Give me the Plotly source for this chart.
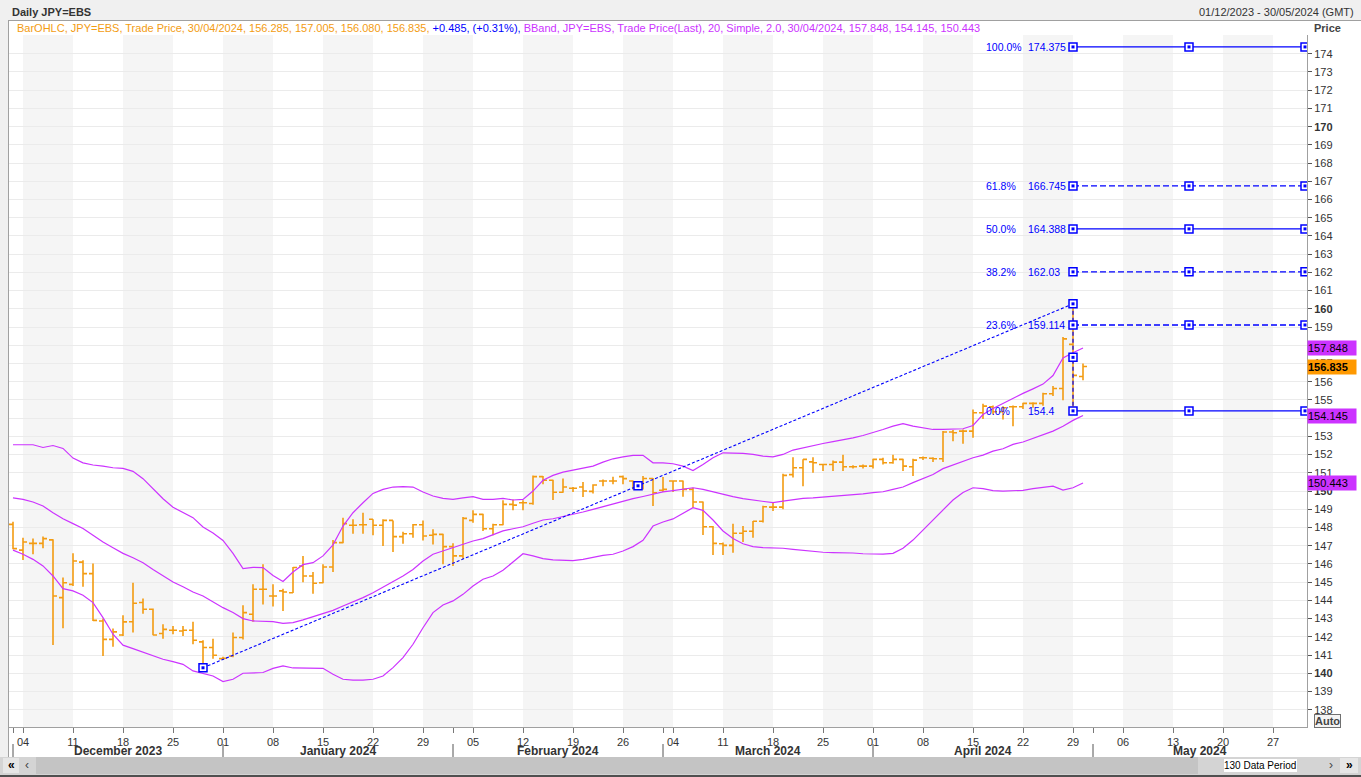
import pandas as pd
import plotly.graph_objects as go

# ---------------- data ----------------
dates = pd.bdate_range("2023-12-01", "2024-05-30")  # 130 weekday slots on the axis

bar_open = [148.17, 146.76, 147.13, 147.13, 147.32, 144.15, 144.88, 146.10, 145.47, 142.87,
            141.86, 142.10, 142.83, 143.88, 143.51, 142.18, 142.36, 142.32, 142.36, 141.72,
            141.41, 140.80, 140.95, 141.96, 143.24, 144.61, 144.24, 144.52, 144.42, 145.89,
            145.34, 144.97, 145.83, 147.17, 148.12, 148.15, 148.45, 148.12, 148.39, 147.50,
            147.66, 148.15, 147.57, 147.62, 146.95, 146.44, 148.39, 148.72, 147.93, 148.15,
            149.27, 149.36, 149.32, 150.79, 150.59, 149.93, 150.15, 150.22, 149.98, 150.55,
            150.55, 150.79, 150.55, 150.51, 150.69, 150.04, 150.55, 150.55, 150.09, 149.40,
            148.04, 147.11, 147.02, 147.68, 147.79, 148.34, 149.12, 149.12, 150.90, 151.28,
            151.60, 151.46, 151.46, 151.59, 151.33, 151.37, 151.37, 151.74, 151.55, 151.74,
            151.33, 151.83, 151.80, 151.77, 153.24, 153.29, 153.29, 154.30, 154.62, 154.35,
            154.63, 154.63, 154.81, 154.81, 155.34, 155.63, 158.05, 156.285]
bar_high = [148.32, 147.44, 147.39, 147.50, 147.35, 145.25, 146.58, 146.20, 146.03, 143.00,
            142.45, 143.18, 144.97, 144.10, 143.55, 142.69, 142.60, 142.60, 142.83, 141.81,
            141.90, 140.90, 142.23, 143.73, 144.88, 145.98, 144.88, 144.64, 145.83, 146.44,
            145.56, 145.98, 147.31, 148.54, 148.45, 148.81, 148.45, 148.45, 148.39, 147.77,
            148.19, 148.39, 147.90, 147.65, 147.13, 148.57, 148.94, 148.75, 148.21, 149.49,
            149.54, 149.49, 150.86, 150.82, 150.62, 150.69, 150.22, 150.49, 150.37, 150.64,
            150.79, 150.86, 150.58, 150.82, 150.72, 150.77, 150.58, 150.58, 150.18, 149.42,
            148.08, 147.17, 148.20, 148.08, 148.35, 149.20, 149.36, 150.95, 151.86, 151.74,
            151.86, 151.50, 151.68, 151.99, 151.42, 151.46, 151.77, 151.83, 151.99, 151.77,
            151.77, 151.90, 151.86, 153.30, 153.35, 153.38, 154.48, 154.79, 154.70, 154.66,
            154.70, 154.85, 154.88, 155.39, 155.76, 158.45, 160.20, 157.005]
bar_low = [146.80, 146.22, 146.53, 146.86, 141.55, 142.47, 144.79, 144.75, 142.87, 140.95,
           141.46, 142.05, 142.23, 143.27, 142.08, 141.90, 142.14, 142.05, 141.59, 140.37,
           140.80, 140.75, 140.88, 141.85, 142.82, 143.78, 143.66, 143.42, 144.40, 145.00,
           144.37, 144.94, 145.56, 147.13, 147.66, 147.66, 147.57, 146.98, 146.65, 147.11,
           147.44, 147.29, 147.07, 145.98, 145.89, 146.29, 148.26, 147.81, 147.57, 148.12,
           148.94, 148.94, 149.25, 150.37, 149.51, 149.90, 149.95, 149.67, 149.87, 150.27,
           150.37, 150.37, 150.09, 150.09, 149.18, 149.95, 149.95, 149.69, 149.09, 147.59,
           146.49, 146.49, 146.62, 147.20, 147.44, 148.28, 148.90, 149.00, 150.75, 150.27,
           151.00, 151.10, 151.10, 151.10, 151.24, 151.24, 151.24, 151.46, 151.50, 151.10,
           150.82, 151.70, 151.60, 151.60, 152.74, 152.60, 152.93, 153.95, 154.20, 153.93,
           153.56, 154.50, 154.57, 154.68, 155.21, 154.99, 154.50, 156.080]
bar_close = [146.84, 147.20, 147.13, 147.39, 144.24, 144.97, 146.16, 145.47, 142.90, 141.86,
             142.27, 142.82, 143.84, 143.51, 142.10, 142.41, 142.36, 142.36, 141.81, 141.41,
             140.99, 140.82, 141.96, 143.33, 144.61, 144.61, 144.24, 144.46, 145.80, 145.34,
             144.94, 145.83, 147.17, 148.21, 148.12, 148.15, 148.12, 148.39, 147.50, 147.66,
             148.15, 147.53, 147.62, 146.95, 146.44, 148.50, 148.72, 147.93, 148.15, 149.27,
             149.23, 149.36, 150.79, 150.59, 149.93, 150.22, 150.15, 150.00, 150.33, 150.55,
             150.55, 150.68, 150.49, 150.69, 149.91, 150.09, 150.55, 150.09, 149.40, 148.04,
             147.13, 147.02, 147.68, 147.79, 148.34, 149.14, 149.12, 150.86, 151.28, 151.74,
             151.55, 151.46, 151.59, 151.33, 151.33, 151.37, 151.74, 151.55, 151.74, 151.37,
             151.70, 151.83, 151.77, 153.24, 153.20, 153.29, 154.30, 154.66, 154.35, 154.57,
             154.63, 154.81, 154.81, 155.34, 155.63, 158.35, 156.35, 156.835]

bb_upper = [152.54, 152.54, 152.54, 152.39, 152.50, 152.34, 151.81, 151.55, 151.43, 151.37,
            151.28, 151.24, 151.08, 150.68, 150.13, 149.58, 149.11, 148.81, 148.54, 148.03,
            147.70, 147.29, 146.58, 145.74, 145.81, 145.80, 145.37, 145.04, 145.56, 145.96,
            146.07, 146.44, 147.05, 148.08, 148.81, 149.36, 149.87, 150.09, 150.22, 150.24,
            150.22, 149.95, 149.73, 149.60, 149.54, 149.63, 149.69, 149.54, 149.54, 149.60,
            149.51, 149.54, 150.00, 150.59, 150.86, 151.04, 151.15, 151.22, 151.37, 151.59,
            151.77, 151.88, 151.96, 151.96, 151.55, 151.55, 151.50, 151.37, 151.13, 151.46,
            151.83, 152.10, 152.10, 152.07, 152.01, 151.92, 151.88, 152.01, 152.25, 152.38,
            152.52, 152.61, 152.71, 152.80, 152.92, 153.05, 153.20, 153.38, 153.56, 153.70,
            153.56, 153.47, 153.38, 153.38, 153.38, 153.42, 153.60, 154.20, 154.53, 154.81,
            155.12, 155.36, 155.61, 155.87, 156.34, 157.31, 157.59, 157.848]
bb_mid = [149.63, 149.54, 149.40, 149.18, 148.81, 148.48, 148.21, 147.95, 147.57, 147.20,
          146.89, 146.58, 146.34, 146.07, 145.70, 145.34, 145.01, 144.75, 144.46, 144.24,
          143.91, 143.60, 143.33, 143.00, 142.87, 142.87, 142.83, 142.74, 142.78, 142.93,
          143.11, 143.27, 143.45, 143.69, 143.91, 144.15, 144.42, 144.73, 145.01, 145.34,
          145.70, 146.16, 146.53, 146.71, 146.89, 147.07, 147.26, 147.39, 147.62, 147.81,
          147.93, 148.04, 148.23, 148.41, 148.48, 148.59, 148.72, 148.85, 148.99, 149.14,
          149.27, 149.45, 149.58, 149.70, 149.84, 149.95, 150.02, 150.09, 150.18, 150.09,
          149.95, 149.82, 149.69, 149.58, 149.51, 149.40, 149.36, 149.45, 149.54, 149.60,
          149.63, 149.67, 149.69, 149.73, 149.78, 149.85, 149.91, 149.96, 150.09, 150.22,
          150.46, 150.68, 150.91, 151.23, 151.44, 151.65, 151.83, 151.97, 152.19, 152.32,
          152.56, 152.69, 152.89, 153.05, 153.29, 153.56, 153.88, 154.145]
bb_lower = [146.76, 146.53, 146.25, 145.89, 145.34, 144.64, 144.52, 144.28, 143.88, 143.05,
            142.14, 141.54, 141.35, 141.17, 140.95, 140.77, 140.64, 140.49, 140.13, 139.98,
            139.85, 139.54, 139.67, 140.00, 140.04, 140.04, 140.27, 140.40, 140.29, 140.29,
            140.31, 140.27, 139.95, 139.67, 139.62, 139.62, 139.67, 139.85, 140.31, 140.86,
            141.59, 142.50, 143.33, 143.75, 143.97, 144.33, 144.79, 145.16, 145.34, 145.65,
            146.11, 146.56, 146.44, 146.29, 146.22, 146.18, 146.18, 146.25, 146.38, 146.47,
            146.53, 146.71, 146.95, 147.30, 148.08, 148.30, 148.47, 148.78, 149.09, 148.94,
            148.41, 147.81, 147.39, 147.11, 146.95, 146.89, 146.89, 146.86, 146.80, 146.75,
            146.67, 146.64, 146.62, 146.62, 146.60, 146.56, 146.54, 146.54, 146.58, 146.86,
            147.31, 147.86, 148.41, 148.96, 149.51, 149.92, 150.18, 150.13, 150.02, 150.00,
            150.00, 150.04, 150.13, 150.20, 150.27, 150.05, 150.18, 150.443]

fib_ratio = [0.0, 23.6, 38.2, 50.0, 61.8, 100.0]
fib_level = [154.4, 159.114, 162.03, 164.388, 166.745, 174.375]
fib_point_a_date = "2023-12-28"
fib_point_a_price = 140.3
fib_point_b_date = "2024-04-29"
fib_point_b_price = 160.275

price_ticks = list(range(138, 175))

# ---------------- styles ----------------
FONT = "Liberation Sans, Arial, sans-serif"
ORANGE = "#F39C12"
MAGENTA = "#CC33FF"
BLUE = "#0000FF"
TXT = "#333333"
FIB_DASH = {0.0: "solid", 23.6: "6px,3px", 38.2: "6px,3px", 50.0: "solid", 61.8: "6px,3px", 100.0: "solid"}

# plot-area geometry in pixels (for paper-referenced decorations)
W, H = 1361, 777
L, R, T, B = 9, 1307, 35, 727
XR = [-0.4, 129.4]
YR = [137.05, 175.03]


def px(x):
    return (x - L) / (R - L)


def py(y):
    return (B - y) / (B - T)


idx = list(range(len(dates)))
pos = {d.strftime("%Y-%m-%d"): i for i, d in enumerate(dates)}
nb = len(bar_open)
bx = idx[:nb]

fig = go.Figure()

# weekly shading bands
mondays = [i for i, d in enumerate(dates) if d.weekday() == 0]
shapes = []
for m in mondays[0::2]:
    shapes.append(dict(type="rect", xref="x", yref="paper", x0=m, x1=m + 5, y0=0, y1=1,
                       fillcolor="#f5f5f5", line=dict(width=0), layer="below"))

# Bollinger bands
for series in (bb_upper, bb_mid, bb_lower):
    fig.add_trace(go.Scatter(x=bx, y=series, mode="lines",
                             line=dict(color=MAGENTA, width=1.2), hoverinfo="skip"))

# OHLC bars
fig.add_trace(go.Ohlc(x=bx, open=bar_open, high=bar_high, low=bar_low, close=bar_close,
                      increasing=dict(line=dict(color=ORANGE, width=1.6)),
                      decreasing=dict(line=dict(color=ORANGE, width=1.6)),
                      tickwidth=0.4, hoverinfo="skip"))

# Fibonacci tool
ia = pos[fib_point_a_date]
ib = pos[fib_point_b_date]
c0 = fib_level[0]
x_end = 129.2
x_mid = (ib + x_end) / 2
fig.add_trace(go.Scatter(x=[ia, ib], y=[fib_point_a_price, fib_point_b_price], mode="lines",
                         line=dict(color=BLUE, width=1.1, dash="3px,2px"), hoverinfo="skip"))
fig.add_trace(go.Scatter(x=[ib, ib], y=[fib_point_b_price, c0], mode="lines",
                         line=dict(color=BLUE, width=1.2, dash="4px,3px"), hoverinfo="skip"))
mk_x = [ia, (ia + ib) / 2, ib, ib]
mk_y = [fib_point_a_price, (fib_point_a_price + fib_point_b_price) / 2, fib_point_b_price,
        (fib_point_b_price + c0) / 2]
annotations = []
for r, v in zip(fib_ratio, fib_level):
    fig.add_trace(go.Scatter(x=[ib, x_end], y=[v, v], mode="lines",
                             line=dict(color=BLUE, width=1.3, dash=FIB_DASH[r]), hoverinfo="skip"))
    mk_x += [ib, x_mid, x_end]
    mk_y += [v, v, v]
    annotations.append(dict(x=ib - 8.8, y=v, xref="x", yref="y", text=f"{r:.1f}%",
                            showarrow=False, xanchor="left", yanchor="middle", borderpad=0,
                            font=dict(family=FONT, size=10.5, color=BLUE)))
    annotations.append(dict(x=ib - 4.6, y=v, xref="x", yref="y", text=f"{v:g}",
                            showarrow=False, xanchor="left", yanchor="middle", borderpad=0,
                            font=dict(family=FONT, size=10.5, color=BLUE)))
fig.add_trace(go.Scatter(x=mk_x, y=mk_y, mode="markers",
                         marker=dict(symbol="square", size=8, color="white",
                                     line=dict(color=BLUE, width=1.5)), hoverinfo="skip"))
fig.add_trace(go.Scatter(x=mk_x, y=mk_y, mode="markers",
                         marker=dict(symbol="square", size=3, color=BLUE, line=dict(width=0)),
                         hoverinfo="skip"))

# x axis ticks: Mondays labelled, month starts marked
month_starts = [i for i, d in enumerate(dates) if i == 0 or d.month != dates[i - 1].month]
tickvals = sorted(set(mondays) | set(month_starts))
ticktext = [dates[i].strftime("%d") if dates[i].weekday() == 0 else "" for i in tickvals]

# month labels + dividers
bounds = month_starts + [XR[1]]
for k, ms in enumerate(month_starts):
    left = max(ms, XR[0])
    centre = (left + bounds[k + 1]) / 2
    annotations.append(dict(x=centre, y=py(751), xref="x", yref="paper",
                            text=f"<b>{dates[ms].strftime('%B %Y')}</b>", showarrow=False,
                            xanchor="center", yanchor="middle",
                            font=dict(family=FONT, size=12, color=TXT)))
    shapes.append(dict(type="line", xref="x", yref="paper", x0=ms, x1=ms, y0=py(744), y1=py(757),
                       line=dict(color="#555555", width=1)))

# y tick labels (bold every 10)
ytext = [f"<b>{v}</b>" if v % 10 == 0 else str(v) for v in price_ticks]

# frame / window chrome
shapes += [
    dict(type="rect", xref="paper", yref="paper", x0=px(0), x1=px(W), y0=py(0), y1=py(20),
         fillcolor="#f0f0f0", line=dict(width=0), layer="above"),
    dict(type="rect", xref="paper", yref="paper", x0=px(0), x1=px(8), y0=py(20), y1=py(777),
         fillcolor="#f0f0f0", line=dict(width=0), layer="above"),
    dict(type="line", xref="paper", yref="paper", x0=px(8), x1=px(W), y0=py(20.5), y1=py(20.5),
         line=dict(color="#a0a0a0", width=1), layer="above"),
    dict(type="line", xref="paper", yref="paper", x0=px(8.5), x1=px(8.5), y0=py(20), y1=py(757),
         line=dict(color="#a0a0a0", width=1), layer="above"),
    # scrollbar
    dict(type="rect", xref="paper", yref="paper", x0=px(0), x1=px(W), y0=py(757), y1=py(775),
         fillcolor="#d4d4d4", line=dict(width=0), layer="above"),
    dict(type="rect", xref="paper", yref="paper", x0=px(36), x1=px(1198), y0=py(757), y1=py(774),
         fillcolor="#c4c4c4", line=dict(width=0), layer="above"),
    dict(type="rect", xref="paper", yref="paper", x0=px(3), x1=px(19), y0=py(758), y1=py(773),
         fillcolor="#e6e6e6", line=dict(width=0), layer="above"),
    dict(type="rect", xref="paper", yref="paper", x0=px(1340), x1=px(1358), y0=py(758), y1=py(773),
         fillcolor="#e6e6e6", line=dict(width=0), layer="above"),
    dict(type="rect", xref="paper", yref="paper", x0=px(1224), x1=px(1297), y0=py(759), y1=py(772),
         fillcolor="white", line=dict(width=0), layer="above"),
    dict(type="rect", xref="paper", yref="paper", x0=px(0), x1=px(W), y0=py(775), y1=py(777),
         fillcolor="#505050", line=dict(width=0), layer="above"),
]

# header texts
o, h, l, c = bar_open[-1], bar_high[-1], bar_low[-1], bar_close[-1]
chg = c - bar_close[-2]
pct = chg / bar_close[-2] * 100
last = dates[nb - 1].strftime("%d/%m/%Y")
legend_txt = (
    f'<span style="color:{ORANGE}">BarOHLC, JPY=EBS, Trade Price, {last}, {o:.3f}, {h:.3f}, {l:.3f}, {c:.3f}, </span>'
    f'<span style="color:{BLUE}">{chg:+.3f}, ({pct:+.2f}%),</span>'
    f'<span style="color:{MAGENTA}"> BBand, JPY=EBS, Trade Price(Last), 20, Simple, 2.0, {last}, '
    f'{bb_upper[-1]:.3f}, {bb_mid[-1]:.3f}, {bb_lower[-1]:.3f}</span>'
)
annotations += [
    dict(x=px(10), y=py(12), xref="paper", yref="paper", text="<b>Daily JPY=EBS</b>",
         showarrow=False, xanchor="left", yanchor="middle", font=dict(family=FONT, size=11, color=TXT)),
    dict(x=px(1356), y=py(12), xref="paper", yref="paper",
         text=f"{dates[0]:%d/%m/%Y} - {dates[-1]:%d/%m/%Y} (GMT)",
         showarrow=False, xanchor="right", yanchor="middle", font=dict(family=FONT, size=11, color=TXT)),
    dict(x=px(15), y=py(28), xref="paper", yref="paper", text=legend_txt,
         showarrow=False, xanchor="left", yanchor="middle", font=dict(family=FONT, size=11)),
    dict(x=px(1327), y=py(28), xref="paper", yref="paper", text="<b>Price</b>",
         showarrow=False, xanchor="center", yanchor="middle", font=dict(family=FONT, size=11, color="#444")),
    dict(x=px(1327), y=py(720.5), xref="paper", yref="paper", text="<b>Auto</b>",
         showarrow=False, xanchor="center", yanchor="middle", bgcolor="#f4f4f4",
         bordercolor="#707070", borderwidth=1, borderpad=0, font=dict(family=FONT, size=11, color="#444")),
    dict(x=px(1260), y=py(765.5), xref="paper", yref="paper", text=f"{len(dates)} Data Period",
         showarrow=False, xanchor="center", yanchor="middle", font=dict(family=FONT, size=10, color="black")),
    dict(x=px(11), y=py(765), xref="paper", yref="paper", text="<b>«</b>",
         showarrow=False, xanchor="center", yanchor="middle", font=dict(family=FONT, size=12, color="black")),
    dict(x=px(27), y=py(765), xref="paper", yref="paper", text="‹",
         showarrow=False, xanchor="center", yanchor="middle", font=dict(family=FONT, size=12, color="#444")),
    dict(x=px(1331), y=py(765), xref="paper", yref="paper", text="›",
         showarrow=False, xanchor="center", yanchor="middle", font=dict(family=FONT, size=12, color="#444")),
    dict(x=px(1349), y=py(765), xref="paper", yref="paper", text="<b>»</b>",
         showarrow=False, xanchor="center", yanchor="middle", font=dict(family=FONT, size=12, color="black")),
]

# last-value boxes on the price axis
boxes = [(bb_upper[-1], MAGENTA, False), (c, "#FF9900", True),
         (bb_mid[-1], MAGENTA, False), (bb_lower[-1], MAGENTA, False)]
for v, col, bold in boxes:
    t = f"{v:.3f}"
    annotations.append(dict(x=1.0, y=v, xref="paper", yref="y",
                            text=f"<b>{t}</b>" if bold else t, showarrow=False,
                            xanchor="left", yanchor="middle", bgcolor=col, width=48, height=14,
                            align="left", borderpad=0,
                            font=dict(family=FONT, size=11, color="black")))

fig.update_layout(
    width=W, height=H,
    margin=dict(l=L, r=W - R, t=T, b=H - B),
    paper_bgcolor="white", plot_bgcolor="white",
    showlegend=False,
    shapes=shapes, annotations=annotations,
    xaxis=dict(range=XR, tickmode="array", tickvals=tickvals, ticktext=ticktext,
               ticks="outside", ticklen=5, tickcolor="#777777",
               tickfont=dict(family=FONT, size=11, color=TXT),
               showgrid=False, zeroline=False, showline=True, linecolor="#a0a0a0",
               rangeslider=dict(visible=False), fixedrange=True),
    yaxis=dict(range=YR, side="right", tickmode="array", tickvals=price_ticks, ticktext=ytext,
               ticks="outside", ticklen=4, tickcolor="#555555",
               tickfont=dict(family=FONT, size=11, color=TXT),
               showgrid=True, gridcolor="#ebebeb", gridwidth=1, zeroline=False,
               showline=True, linecolor="#a0a0a0", fixedrange=True),
)

fig.write_html("out.html", config={"displayModeBar": False},
               post_script="document.body.style.margin='0px';document.body.style.overflow='hidden';")
